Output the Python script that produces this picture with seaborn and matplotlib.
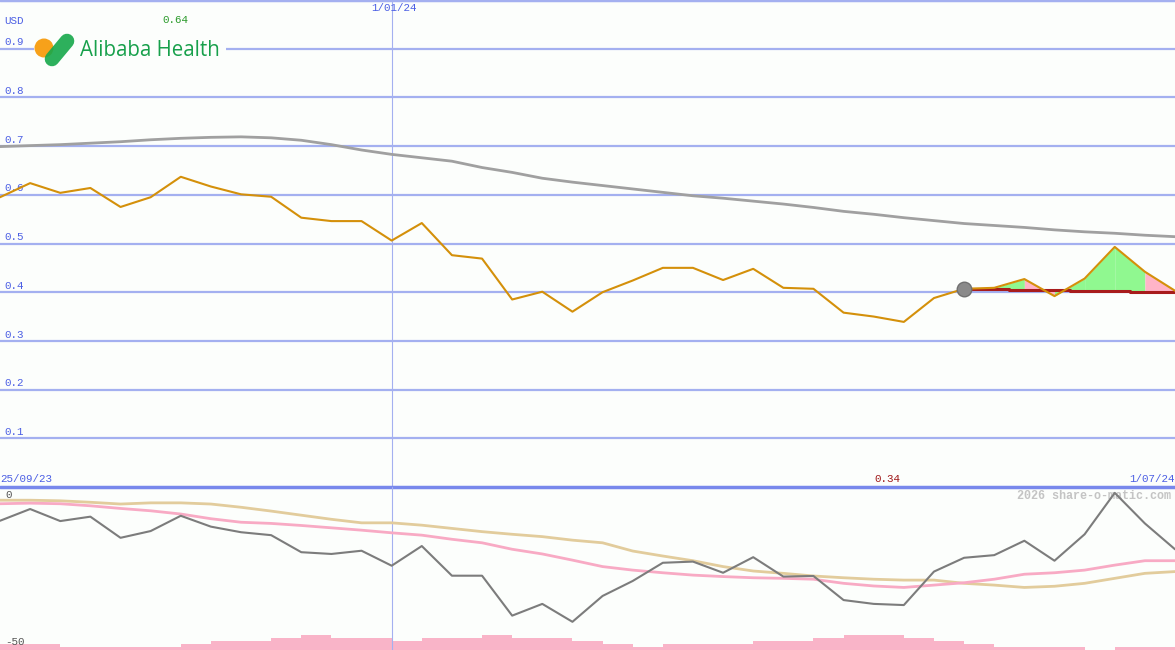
import numpy as np
import pandas as pd
import seaborn as sns
import matplotlib.pyplot as plt
from matplotlib.patches import Circle, Rectangle

# weekly closes (USD), 40 points from 25/09/23
price = [0.595, 0.624, 0.604, 0.614, 0.575, 0.595, 0.637, 0.617, 0.601, 0.596,
         0.553, 0.546, 0.546, 0.506, 0.542, 0.476, 0.469, 0.385, 0.401, 0.360,
         0.400, 0.424, 0.450, 0.450, 0.425, 0.448, 0.409, 0.407, 0.358, 0.350,
         0.339, 0.388, 0.407, 0.409, 0.427, 0.392, 0.428, 0.493, 0.442, 0.403]
ma_long = [0.699, 0.701, 0.703, 0.706, 0.709, 0.713, 0.716, 0.718, 0.719, 0.717,
           0.712, 0.703, 0.692, 0.683, 0.676, 0.669, 0.656, 0.646, 0.634, 0.626,
           0.619, 0.612, 0.605, 0.598, 0.593, 0.587, 0.581, 0.574, 0.566, 0.560,
           0.553, 0.547, 0.541, 0.537, 0.533, 0.528, 0.524, 0.521, 0.517, 0.514]
# trailing reference line from the marked point (index 32)
ref_start = 32
ref_line = [0.407, 0.407, 0.405, 0.405, 0.403, 0.403, 0.401, 0.401]
fill_up = [True, True, False, True, True, True, False]  # green / pink per interval

# lower panel: relative strength and its averages
rel = [-6.7, -2.7, -6.8, -5.3, -12.5, -10.2, -5.0, -8.7, -10.6, -11.6,
       -17.4, -18.0, -16.9, -22.0, -15.3, -25.4, -25.4, -39.0, -35.0, -41.1,
       -32.3, -27.2, -21.0, -20.6, -24.4, -19.1, -25.7, -25.5, -33.7, -35.0,
       -35.4, -24.0, -19.3, -18.4, -13.5, -20.3, -11.3, 2.8, -7.6, -16.4]
rel_pink = [-0.9, -0.7, -0.9, -1.6, -2.5, -3.3, -4.4, -6.0, -7.2, -7.6,
            -8.3, -9.1, -9.9, -10.8, -11.6, -13.0, -14.2, -16.4, -18.0, -20.1,
            -22.3, -23.5, -24.4, -25.2, -25.7, -26.1, -26.3, -26.6, -28.0, -28.9,
            -29.4, -28.6, -27.8, -26.6, -24.9, -24.4, -23.5, -21.8, -20.3, -20.3]
rel_tan = [0.3, 0.3, 0.1, -0.4, -1.0, -0.6, -0.6, -1.0, -2.1, -3.4,
           -4.8, -6.2, -7.4, -7.4, -8.2, -9.3, -10.4, -11.3, -12.1, -13.3,
           -14.2, -17.0, -18.7, -20.3, -22.3, -23.8, -24.6, -25.5, -26.1, -26.6,
           -26.9, -26.9, -28.0, -28.6, -29.4, -29.0, -28.0, -26.3, -24.6, -24.0]
volume = [2, 2, 1, 1, 1, 1, 2, 3, 3, 4, 5, 4, 4, 3, 4, 4, 5, 4, 4, 3,
          2, 1, 2, 2, 2, 3, 3, 4, 5, 5, 4, 3, 2, 1, 1, 1, 0, 1, 1]

price_ticks = [0.1, 0.2, 0.3, 0.4, 0.5, 0.6, 0.7, 0.8, 0.9]
date_labels = ['25/09/23', '1/01/24', '1/07/24']
date_pos = [0, 13, 39]

sns.set_style('white')
plt.rcParams['font.family'] = ['Liberation Mono', 'DejaVu Sans Mono']

weeks = np.arange(len(price))
df = pd.DataFrame({'week': weeks, 'price': price, 'ma': ma_long,
                   'rel': rel, 'pink': rel_pink, 'tan': rel_tan})

bg = '#fcfefc'
grid_c = '#a4b0f0'
lab_c = '#4c5fe4'
fs = 7.8

fig = plt.figure(figsize=(11.75, 6.5), dpi=100, facecolor=bg)
split = 163 / 650
ax = fig.add_axes([0, split, 1, 1 - split])
ax2 = fig.add_axes([0, 0, 1, split])
for a in (ax, ax2):
    a.set_facecolor(bg)
    a.set_xlim(0, len(price) - 1)
    for s in a.spines.values():
        s.set_visible(False)
    a.set_xticks([]); a.set_yticks([])
    a.axvline(date_pos[1], color=grid_c, lw=0.8, zorder=1)

# ---- main price panel
ax.set_ylim(0, 1.0)
for t in price_ticks:
    ax.axhline(t, color=grid_c, lw=1.6, zorder=1)
    ax.annotate(f'{t:.1f}', (0, t), xytext=(3.5, 1), textcoords='offset points',
                color=lab_c, fontsize=fs, va='bottom', ha='left')
ax.axhline(1.0, color=grid_c, lw=2.5, zorder=1)
ax.axhline(0.0, color='#7888ec', lw=2.5, zorder=5, clip_on=False)

sns.lineplot(data=df, x='week', y='ma', ax=ax, color='#a0a0a0', lw=2, zorder=3)

xr = weeks[ref_start:]
pr = np.array(price[ref_start:])
rr = np.array(ref_line)
for i, up in enumerate(fill_up):
    ax.fill_between(xr[i:i + 2], rr[i:i + 2], pr[i:i + 2],
                    color='#90f890' if up else '#ffb4c8', lw=0, zorder=3)
ax.plot(xr, rr, color='#a81c1c', lw=2.2, drawstyle='steps-mid', zorder=4)

sns.lineplot(data=df, x='week', y='price', ax=ax, color='#d4900a', lw=1.5, zorder=5)
ax.scatter([weeks[ref_start]], [price[ref_start]], s=110, color='#8a8a8a',
           edgecolor='#707070', zorder=6)
ax.set_xlabel(''); ax.set_ylabel('')

ax.text(0.004, 0.957, 'USD', transform=ax.transAxes, color=lab_c, fontsize=fs,
        va='center', ha='left')
imax = int(np.argmax(price)); imin = int(np.argmin(price))
ax.annotate(f'{price[imax]:.2f}', (imax, 1.0), xytext=(-4, -14.5), textcoords='offset points',
            color='#2a9a2a', fontsize=fs, ha='center', va='center')
ax.annotate(f'{price[imin]:.2f}', (imin, 0.0), xytext=(-12, 6), textcoords='offset points',
            color='#a01818', fontsize=fs, ha='center', va='center')
ax.annotate(date_labels[1], (date_pos[1], 1.0), xytext=(2, -6), textcoords='offset points',
            color=lab_c, fontsize=fs, ha='center', va='center')
ax.annotate(date_labels[0], (date_pos[0], 0.0), xytext=(0, 6), textcoords='offset points',
            color=lab_c, fontsize=fs, ha='left', va='center')
ax.annotate(date_labels[2], (date_pos[2], 0.0), xytext=(0, 6), textcoords='offset points',
            color=lab_c, fontsize=fs, ha='right', va='center')

# ---- lower panel
ax2.set_ylim(-50.7, 4.8)
axv = ax2.twinx()
axv.set_ylim(0, 54.3)
axv.bar(weeks[:-1], volume, width=1.0, align='edge', color='#f9b4c8', lw=0, zorder=1)
axv.set_yticks([])
for s in axv.spines.values():
    s.set_visible(False)
ax2.set_zorder(axv.get_zorder() + 1)
ax2.patch.set_visible(False)
axv.set_facecolor(bg)

sns.lineplot(data=df, x='week', y='tan', ax=ax2, color='#e2cc9c', lw=2, zorder=3)
sns.lineplot(data=df, x='week', y='pink', ax=ax2, color='#f8aac4', lw=2, zorder=3)
sns.lineplot(data=df, x='week', y='rel', ax=ax2, color='#7c7c7c', lw=1.5, zorder=4)
ax2.set_xlabel(''); ax2.set_ylabel(''); ax2.set_yticks([])
for v in (0, -50):
    ax2.annotate(str(v), (0, v), xytext=(4, 1), textcoords='offset points',
                 color='#555555', fontsize=fs, va='bottom', ha='left')
ax2.text(0.997, 0.945, '2026 share-o-matic.com', transform=ax2.transAxes,
         color='#c4c4c4', fontsize=8.5, ha='right', va='center', fontweight='bold')

# ---- logo overlay (pixel coordinates)
lg = fig.add_axes([0, 0, 1, 1])
lg.set_xlim(0, 1175); lg.set_ylim(650, 0); lg.axis('off')
lg.add_patch(Rectangle((34, 37), 192, 26, color=bg, lw=0))
lg.add_patch(Circle((44, 48), 9.5, color='#f7a11a', lw=0))
lg.plot([52, 67], [59, 41], color='#16a84a', lw=10.5, solid_capstyle='round', alpha=0.9)
lg.text(80, 50.5, 'Alibaba Health', color='#17a04b', fontsize=14.8,
        family=['Open Sans', 'DejaVu Sans'], va='center', ha='left')

fig.savefig('out.png', dpi=100, facecolor=bg)
